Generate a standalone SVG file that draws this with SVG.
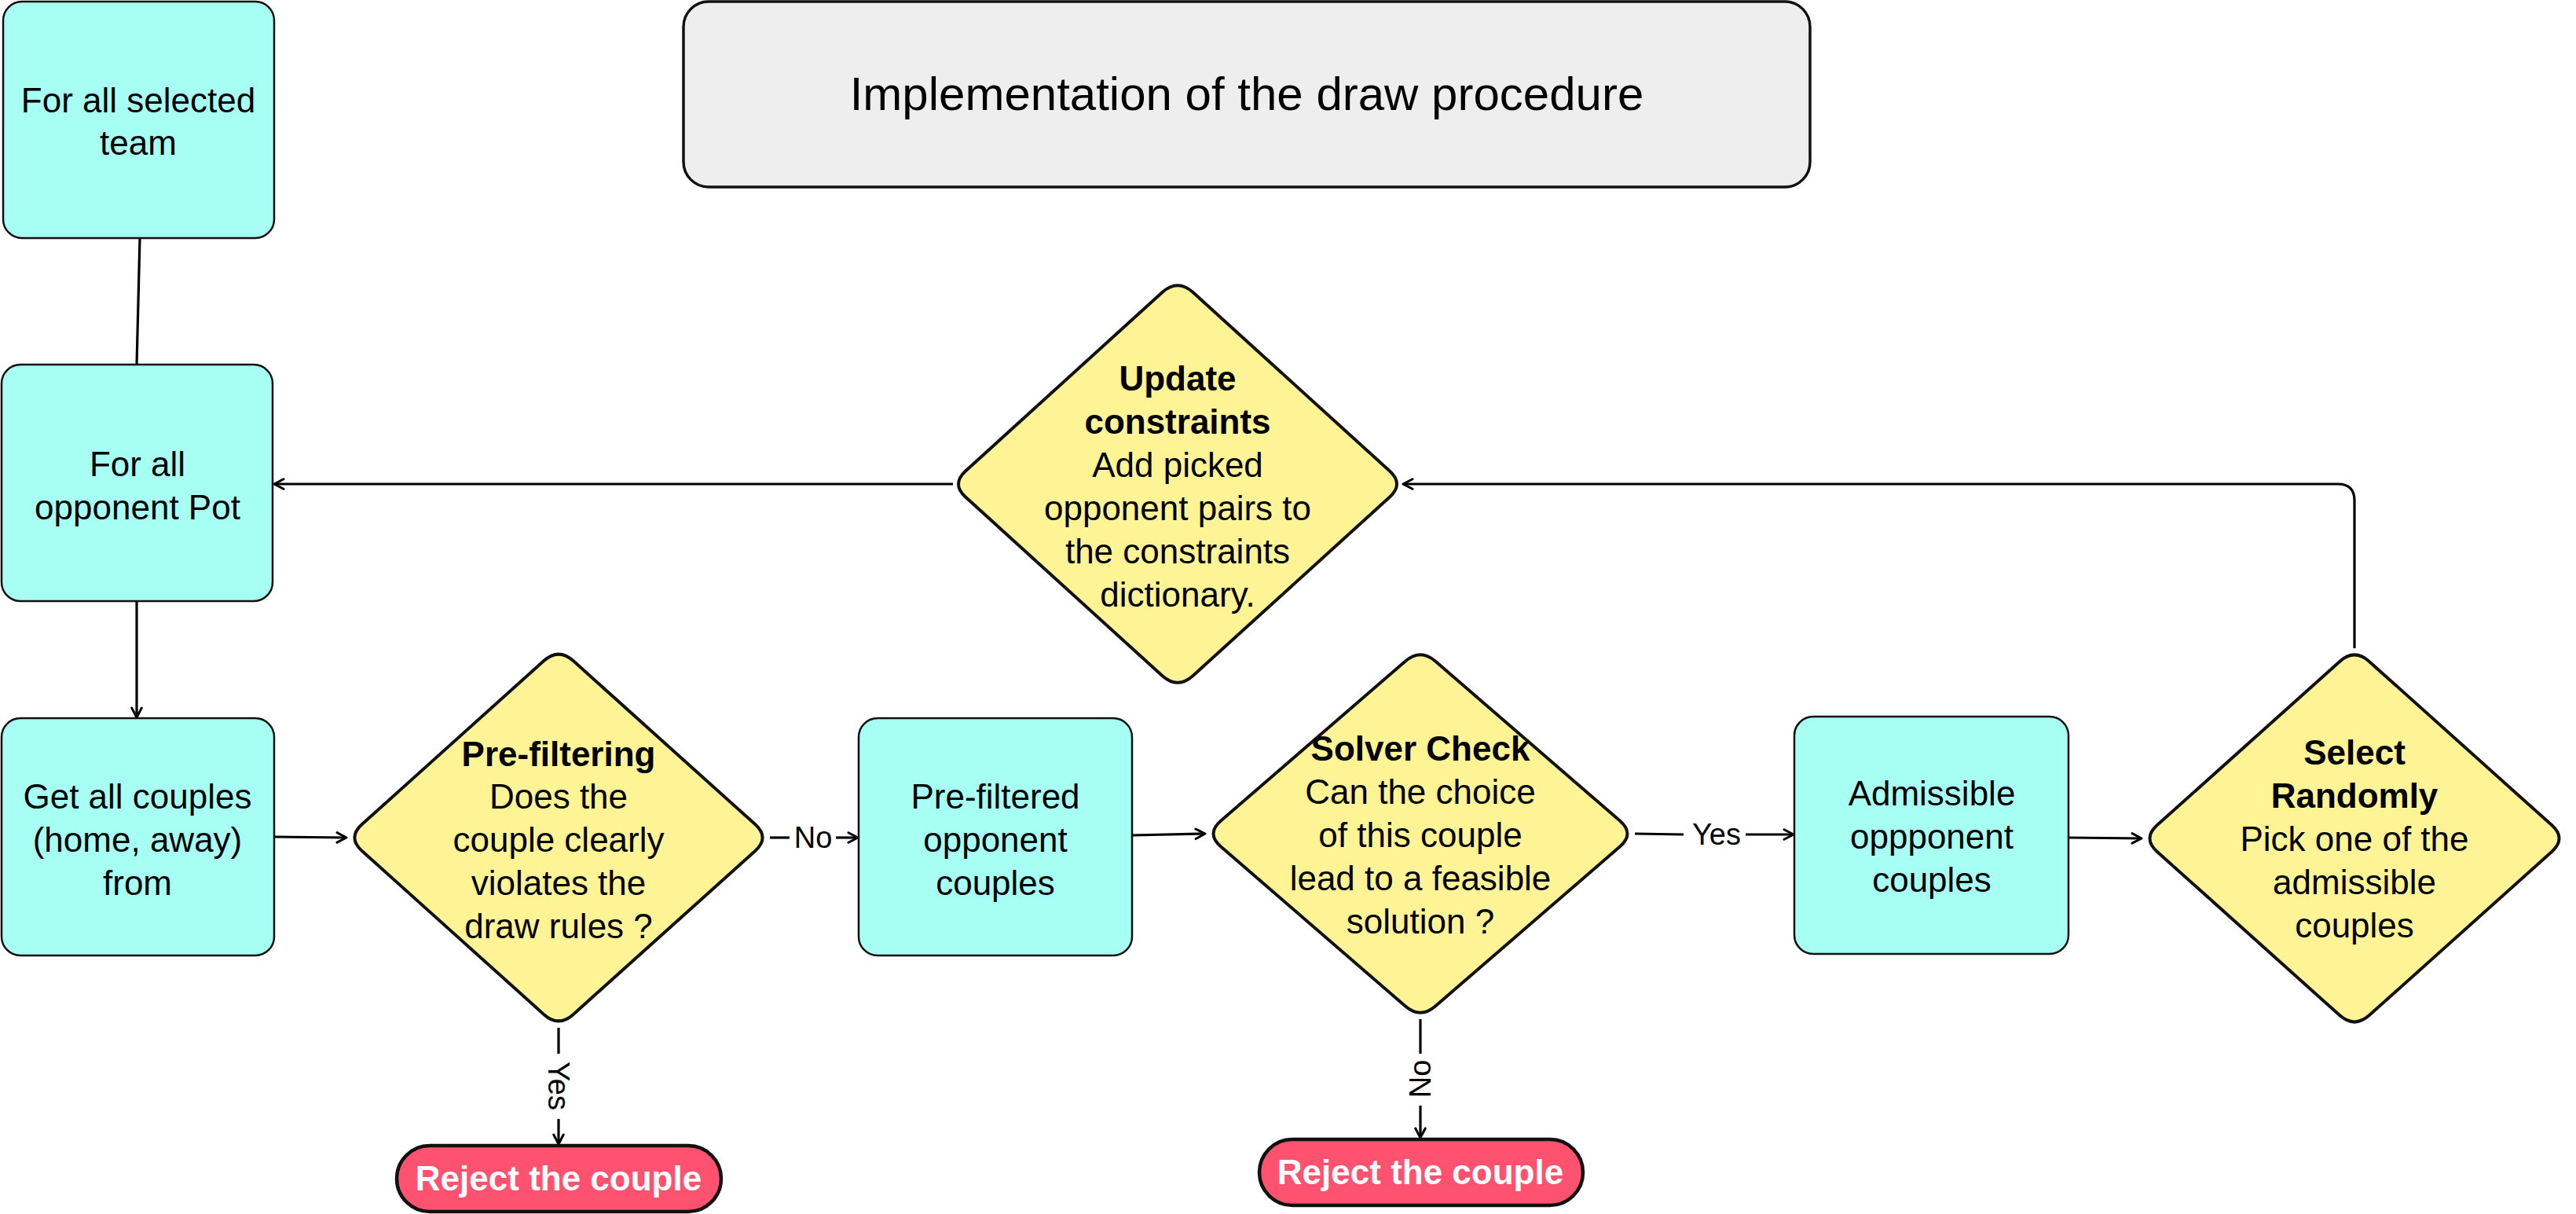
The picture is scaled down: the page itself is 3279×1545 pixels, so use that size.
<svg xmlns="http://www.w3.org/2000/svg" width="3279" height="1545" viewBox="0 0 3279 1545">
<style>
.box{fill:#A7FFF3;stroke:#111;stroke-width:2.5}
.dia{fill:#FFF495;stroke:#111;stroke-width:4;stroke-linejoin:round}
.rej{fill:#FF5270;stroke:#111;stroke-width:4.5}
.ttl{fill:#EEEEEE;stroke:#111;stroke-width:3.5}
.t{font-family:"Liberation Sans",Arial,sans-serif;font-size:44px;fill:#000;text-anchor:middle}
.b{font-weight:bold}
.w{fill:#fff;font-weight:bold}
.lbl{font-family:"Liberation Sans",Arial,sans-serif;font-size:38px;fill:#000;text-anchor:middle;dominant-baseline:central}
.c{fill:none;stroke:#000;stroke-width:3.2}
</style>
<defs>
<marker id="ah" viewBox="0 0 14 14" markerWidth="16" markerHeight="16" refX="12.5" refY="7" orient="auto" markerUnits="userSpaceOnUse">
<path d="M2,1.5 L12.5,7 L2,12.5" fill="none" stroke="#000" stroke-width="2.6" stroke-linecap="round" stroke-linejoin="round"/>
</marker>
</defs>

<g id="title">
<rect class="ttl" x="870" y="2" width="1434" height="236" rx="32"/>
<text class="t" style="font-size:60px" x="1587" y="140">Implementation of the draw procedure</text>
</g>

<g id="connectors">
<line class="c" x1="178" y1="303" x2="174" y2="464"/>
<line class="c" x1="174" y1="765" x2="174" y2="913" marker-end="url(#ah)"/>
<line class="c" x1="349" y1="1065" x2="441" y2="1066" marker-end="url(#ah)"/>
<line class="c" x1="980" y1="1066" x2="1005" y2="1066"/>
<text class="lbl" x="1035" y="1066">No</text>
<line class="c" x1="1064" y1="1066" x2="1092" y2="1066" marker-end="url(#ah)"/>
<line class="c" x1="711" y1="1308" x2="711" y2="1341"/>
<text class="lbl" x="711" y="1382" transform="rotate(90 711 1382)">Yes</text>
<line class="c" x1="711" y1="1424" x2="711" y2="1456" marker-end="url(#ah)"/>
<line class="c" x1="1441" y1="1063" x2="1534" y2="1061" marker-end="url(#ah)"/>
<line class="c" x1="2081" y1="1061" x2="2143" y2="1062"/>
<text class="lbl" x="2185" y="1062">Yes</text>
<line class="c" x1="2222" y1="1062" x2="2283" y2="1062" marker-end="url(#ah)"/>
<line class="c" x1="1808" y1="1297" x2="1808" y2="1341"/>
<text class="lbl" x="1808" y="1373" transform="rotate(-90 1808 1373)">No</text>
<line class="c" x1="1808" y1="1407" x2="1808" y2="1448" marker-end="url(#ah)"/>
<line class="c" x1="2633" y1="1066" x2="2726" y2="1067" marker-end="url(#ah)"/>
<path class="c" d="M2997,825 L2997,637 Q2997,616 2976,616 L1786,616" marker-end="url(#ah)"/>
<line class="c" x1="1213" y1="616" x2="349" y2="616" marker-end="url(#ah)"/>
</g>

<g id="n-selected-team">
<rect class="box" x="4" y="2" width="345" height="301" rx="24"/>
<text class="t" x="176" y="143">For all selected</text>
<text class="t" x="176" y="197">team</text>
</g>

<g id="n-opponent-pot">
<rect class="box" x="2" y="464" width="345" height="301" rx="24"/>
<text class="t" x="175" y="606">For all</text>
<text class="t" x="175" y="661">opponent Pot</text>
</g>

<g id="n-get-couples">
<rect class="box" x="2" y="914" width="347" height="302" rx="24"/>
<text class="t" x="175" y="1029">Get all couples</text>
<text class="t" x="175" y="1084">(home, away)</text>
<text class="t" x="175" y="1139">from</text>
</g>

<g id="n-prefiltering">
<path class="dia" d="M692.2,841.1 Q711,824 729.8,841.1 L961.2,1049.1 Q980,1066 961.2,1082.9 L729.8,1290.9 Q711,1308 692.2,1290.9 L460.8,1082.9 Q442,1066 460.8,1049.1 Z"/>
<text class="t b" x="711" y="975">Pre-filtering</text>
<text class="t" x="711" y="1029">Does the</text>
<text class="t" x="711" y="1084">couple clearly</text>
<text class="t" x="711" y="1139">violates the</text>
<text class="t" x="711" y="1194">draw rules ?</text>
</g>

<g id="n-reject-1">
<rect class="rej" x="505" y="1458" width="413" height="84" rx="42"/>
<text class="t w" x="711" y="1515">Reject the couple</text>
</g>

<g id="n-prefiltered">
<rect class="box" x="1093" y="914" width="348" height="302" rx="24"/>
<text class="t" x="1267" y="1029">Pre-filtered</text>
<text class="t" x="1267" y="1084">opponent</text>
<text class="t" x="1267" y="1139">couples</text>
</g>

<g id="n-solver">
<path class="dia" d="M1788.9,841.5 Q1808,825 1827.1,841.5 L2061.9,1044.5 Q2081,1061 2061.9,1077.5 L1827.1,1280.5 Q1808,1297 1788.9,1280.5 L1554.1,1077.5 Q1535,1061 1554.1,1044.5 Z"/>
<text class="t b" x="1808" y="968">Solver Check</text>
<text class="t" x="1808" y="1023">Can the choice</text>
<text class="t" x="1808" y="1078">of this couple</text>
<text class="t" x="1808" y="1133">lead to a feasible</text>
<text class="t" x="1808" y="1188">solution ?</text>
</g>

<g id="n-reject-2">
<rect class="rej" x="1603" y="1450" width="412" height="84" rx="42"/>
<text class="t w" x="1808" y="1507">Reject the couple</text>
</g>

<g id="n-admissible">
<rect class="box" x="2284" y="912" width="349" height="302" rx="24"/>
<text class="t" x="2459" y="1025">Admissible</text>
<text class="t" x="2459" y="1080">oppponent</text>
<text class="t" x="2459" y="1135">couples</text>
</g>

<g id="n-select">
<path class="dia" d="M2978.1,841.9 Q2997,825 3015.9,841.9 L3248.1,1050.1 Q3267,1067 3248.1,1083.9 L3015.9,1292.1 Q2997,1309 2978.1,1292.1 L2745.9,1083.9 Q2727,1067 2745.9,1050.1 Z"/>
<text class="t b" x="2997" y="973">Select</text>
<text class="t b" x="2997" y="1028">Randomly</text>
<text class="t" x="2997" y="1083">Pick one of the</text>
<text class="t" x="2997" y="1138">admissible</text>
<text class="t" x="2997" y="1193">couples</text>
</g>

<g id="n-update">
<path class="dia" d="M1480,371.5 Q1499,355 1518,371.5 L1769,599.5 Q1787,616 1769,632.5 L1518,860.5 Q1499,877 1480,860.5 L1229,632.5 Q1211,616 1229,599.5 Z"/>
<text class="t b" x="1499" y="497">Update</text>
<text class="t b" x="1499" y="552">constraints</text>
<text class="t" x="1499" y="607">Add picked</text>
<text class="t" x="1499" y="662">opponent pairs to</text>
<text class="t" x="1499" y="717">the constraints</text>
<text class="t" x="1499" y="772">dictionary.</text>
</g>
</svg>
